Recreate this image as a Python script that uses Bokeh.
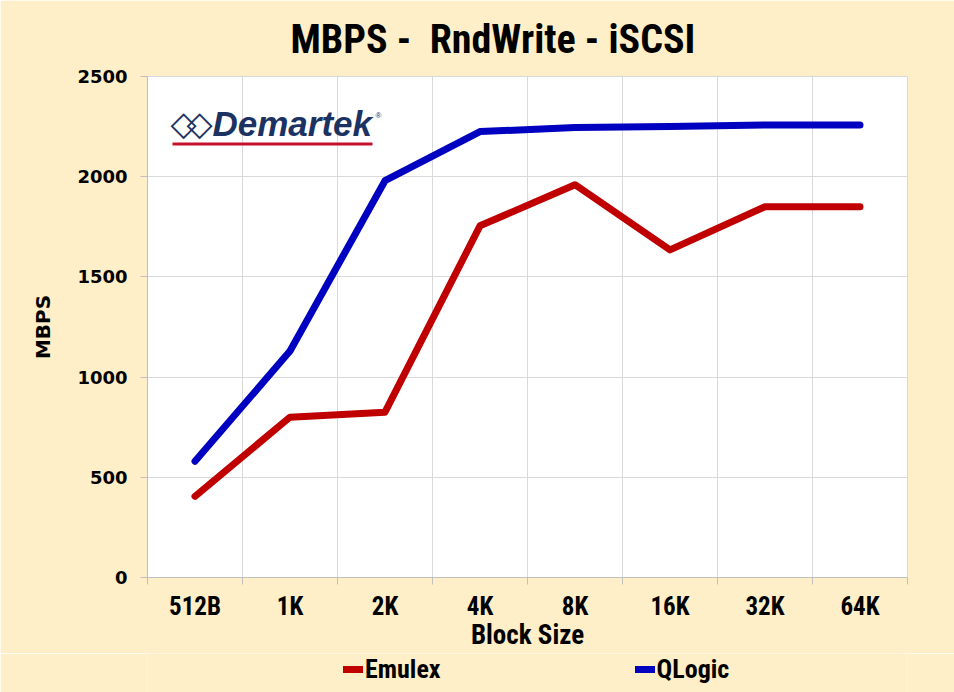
from bokeh.plotting import figure
from bokeh.layouts import column
from bokeh.models import FixedTicker, Legend, LegendItem, Label, BoxAnnotation, Range1d, Title
from bokeh.embed import file_html
from bokeh.resources import INLINE

# ---- data ----
block_sizes = ["512B", "1K", "2K", "4K", "8K", "16K", "32K", "64K"]
emulex = [405, 800, 825, 1755, 1960, 1635, 1850, 1850]
qlogic = [580, 1130, 1980, 2225, 2245, 2250, 2258, 2258]
y_ticks = [0, 500, 1000, 1500, 2000, 2500]
series_names = ["Emulex", "QLogic"]
series_colors = ["#C00000", "#0000C0"]
title_text = "MBPS -\u00a0 RndWrite - iSCSI"

NARROW = "Roboto Condensed"
WIDE = "DejaVu Sans"
CREAM = "#FFEFC8"
GRID = "#d9d9d9"
AXIS = "#bfbfbf"

x = list(range(len(block_sizes)))

p = figure(width=954, height=652, frame_width=760, frame_height=501,
           output_backend="svg", toolbar_location=None,
           x_range=Range1d(-0.5, len(block_sizes) - 0.5),
           y_range=Range1d(y_ticks[0], y_ticks[-1]),
           min_border_left=147, min_border_right=47,
           min_border_top=76, min_border_bottom=75)
p.border_fill_color = CREAM
p.background_fill_color = "white"
p.outline_line_color = GRID

# title
p.add_layout(Title(text=title_text, align="left", offset=143, standoff=27,
                   text_font=NARROW, text_font_style="bold", text_font_size="40px",
                   text_color="black"), "above")

# x axis: labels at centres, ticks + grid at category boundaries
xt = FixedTicker(ticks=x, minor_ticks=[i - 0.5 for i in range(len(block_sizes) + 1)])
p.xaxis.ticker = xt
p.xaxis.major_label_overrides = {i: s for i, s in enumerate(block_sizes)}
p.xaxis.major_tick_in = 0
p.xaxis.major_tick_out = 0
p.xaxis.minor_tick_in = 0
p.xaxis.minor_tick_out = 7
p.xaxis.minor_tick_line_color = AXIS
p.xaxis.axis_line_color = AXIS
p.xaxis.major_label_text_font = NARROW
p.xaxis.major_label_text_font_style = "bold"
p.xaxis.major_label_text_font_size = "25px"
p.xaxis.major_label_text_color = "black"
p.xaxis.major_label_standoff = 7
p.xaxis.axis_label = "Block Size"
p.xaxis.axis_label_text_font = NARROW
p.xaxis.axis_label_text_font_style = "bold"
p.xaxis.axis_label_text_font_size = "27px"
p.xaxis.axis_label_text_color = "black"
p.xaxis.axis_label_standoff = -5
p.xgrid.grid_line_color = None
p.xgrid.minor_grid_line_color = GRID

# y axis
p.yaxis.ticker = FixedTicker(ticks=y_ticks)
p.yaxis.major_tick_in = 0
p.yaxis.major_tick_out = 7
p.yaxis.major_tick_line_color = AXIS
p.yaxis.minor_tick_line_color = None
p.yaxis.axis_line_color = AXIS
p.yaxis.major_label_text_font = WIDE
p.yaxis.major_label_text_font_style = "bold"
p.yaxis.major_label_text_font_size = "18px"
p.yaxis.major_label_text_color = "black"
p.yaxis.major_label_standoff = 13
p.yaxis.axis_label = "MBPS"
p.yaxis.axis_label_text_font = WIDE
p.yaxis.axis_label_text_font_style = "bold"
p.yaxis.axis_label_text_font_size = "20px"
p.yaxis.axis_label_text_color = "black"
p.yaxis.axis_label_standoff = 19
p.ygrid.grid_line_color = GRID

# lines
for ys, c in zip([emulex, qlogic], series_colors):
    p.line(x, ys, line_color=c, line_width=7, line_cap="round", line_join="round")

# logo
NAVY = "#1c3263"
for cx in (36, 52):
    p.add_layout(Label(x=cx, y=455, x_units="screen", y_units="screen", text="\u25C7",
                       text_align="center", text_baseline="middle",
                       text_font=WIDE, text_font_size="34px", text_color=NAVY))
p.add_layout(Label(x=65, y=454, x_units="screen", y_units="screen", text="Demartek",
                   text_align="left", text_baseline="alphabetic",
                   text_font="Liberation Sans", text_font_style="bold italic",
                   text_font_size="35px", text_color=NAVY))
p.add_layout(Label(x=228, y=462, x_units="screen", y_units="screen", text="\u00AE",
                   text_align="left", text_baseline="middle",
                   text_font="Liberation Sans", text_font_size="8px", text_color=NAVY))
p.add_layout(BoxAnnotation(left=25, right=225, bottom=432, top=435,
                           left_units="screen", right_units="screen",
                           bottom_units="screen", top_units="screen",
                           fill_color="#C8102E", fill_alpha=1, line_color=None))

# legend strip (separate figure below, same cream background)
lg = figure(width=954, height=40, output_backend="svg", toolbar_location=None,
            x_axis_location=None, y_axis_location=None,
            x_range=Range1d(-0.5, len(block_sizes) - 0.5),
            y_range=Range1d(y_ticks[0], y_ticks[-1]),
            min_border_left=0, min_border_right=0, min_border_top=0, min_border_bottom=0)
lg.title = None
lg.border_fill_color = CREAM
lg.background_fill_color = CREAM
lg.outline_line_color = None
lg.grid.visible = False
items = []
for name, ys, c in zip(series_names, [emulex, qlogic], series_colors):
    r = lg.line(x, ys, line_color=c, line_width=7, line_cap="round", visible=False)
    items.append(LegendItem(label=name, renderers=[r]))
legend = Legend(items=items, location=(196, 9), orientation="horizontal",
                background_fill_alpha=0, border_line_color=None,
                inactive_fill_alpha=0,
                padding=0, margin=0, spacing=194, glyph_width=20, glyph_height=20,
                label_standoff=2, label_text_font=NARROW, label_text_font_style="bold",
                label_text_font_size="26px", label_text_color="black")
lg.add_layout(legend)

layout = column(p, lg, spacing=0)
open("out.html", "w").write(file_html(layout, INLINE))
